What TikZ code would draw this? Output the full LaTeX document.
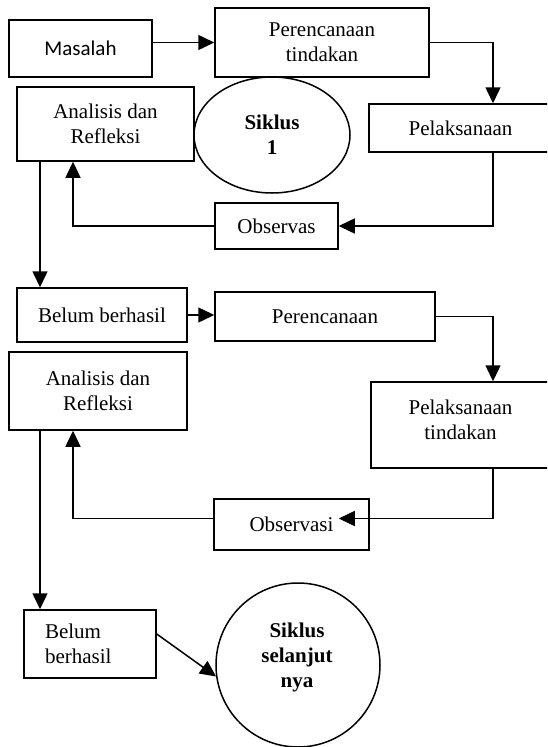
\documentclass[tikz,border=0pt]{standalone}
\usepackage{fontspec}
\setmainfont{Liberation Serif}
\newfontfamily\calibfont{Carlito}
\usetikzlibrary{arrows.meta,shapes.geometric,calc}
\begin{document}
\begin{tikzpicture}[x=1pt,y=-1pt,
  box/.style={draw,line width=1.5pt,rectangle,inner sep=0pt,align=center,font=\fontsize{21}{25}\selectfont},
  bubble/.style={draw,line width=1.5pt,inner sep=0pt,align=center,font=\fontsize{21}{25}\selectfont\bfseries},
  btext/.style={inner sep=0pt,align=center,font=\fontsize{21}{25}\selectfont\bfseries},
  arr/.style={line width=1.5pt,-{Triangle[length=16pt,width=15pt]}}]
\useasboundingbox (0,0) rectangle (547,747);
\clip (0,0) rectangle (547,747);
% nodes
\node[box,minimum width=143pt,minimum height=57pt,font=\calibfont\fontsize{21}{25}\selectfont] (masalah) at (80.5,48.5) {Masalah};
\node[box,minimum width=214pt,minimum height=69pt] (p1) at (322,42.5) {Perencanaan\\tindakan};
\node[box,minimum width=183pt,minimum height=48pt] (pel1) at (460.5,128) {Pelaksanaan};
\node[box,minimum width=177pt,minimum height=74pt] (ana1) at (105.5,124) {Analisis dan\\Refleksi};
\node[bubble,ellipse,minimum width=156pt,minimum height=116pt] (s1) at (272,135) {Siklus\\1};
\node[box,minimum width=123pt,minimum height=46pt] (obs1) at (276.5,226) {Observas};
\node[box,minimum width=170pt,minimum height=54pt] (belum1) at (102,315) {Belum berhasil};
\node[box,minimum width=220pt,minimum height=49pt] (p2) at (325,316.5) {Perencanaan};
\node[box,minimum width=178pt,minimum height=78pt] (ana2) at (98,391) {Analisis dan\\Refleksi};
\node[box,minimum width=179pt,minimum height=86pt] (pel2) at (460.5,425) {};
\node[box,draw=none] (pel2t) at (460.5,420) {Pelaksanaan\\tindakan};
\node[box,minimum width=155pt,minimum height=51pt] (obs2) at (291.5,524.5) {Observasi};
\node[box,align=left,text width=90pt,inner xsep=21pt,minimum height=68pt] (belum2) at (90,644) {Belum\\berhasil};
\node[bubble,circle,minimum size=164pt] (s2) at (298,665) {};
\node[btext] (s2t) at (297,657) {Siklus\\selanjut\\nya};
% helper coordinates
\coordinate (kr) at (493,0);
\coordinate (ku) at (73,0);
\coordinate (kd) at (40,0);
\coordinate (tip2) at ($(obs2.east)+(-31,-6)$);
% connectors
\draw[arr] (masalah.east |- p1.west) -- (p1.west);
\draw[arr] (p1.east) -| (kr |- pel1.north);
\draw[arr] (kr |- pel1.south) |- (obs1.east);
\draw[arr] (obs1.west) -| (ku |- ana1.south);
\draw[arr] (kd |- ana1.south) -- (kd |- belum1.north);
\draw[arr] (belum1.east) -- (belum1.east -| p2.west);
\draw[arr] (p2.east) -| (kr |- pel2.north);
\draw[arr] (kr |- pel2.south) |- (tip2);
\draw[arr] (obs2.west |- tip2) -| (ku |- ana2.south);
\draw[arr] (kd |- ana2.south) -- (kd |- belum2.north);
\draw[arr] ([yshift=10pt]belum2.east) -- (s2.188);
\end{tikzpicture}
\end{document}
